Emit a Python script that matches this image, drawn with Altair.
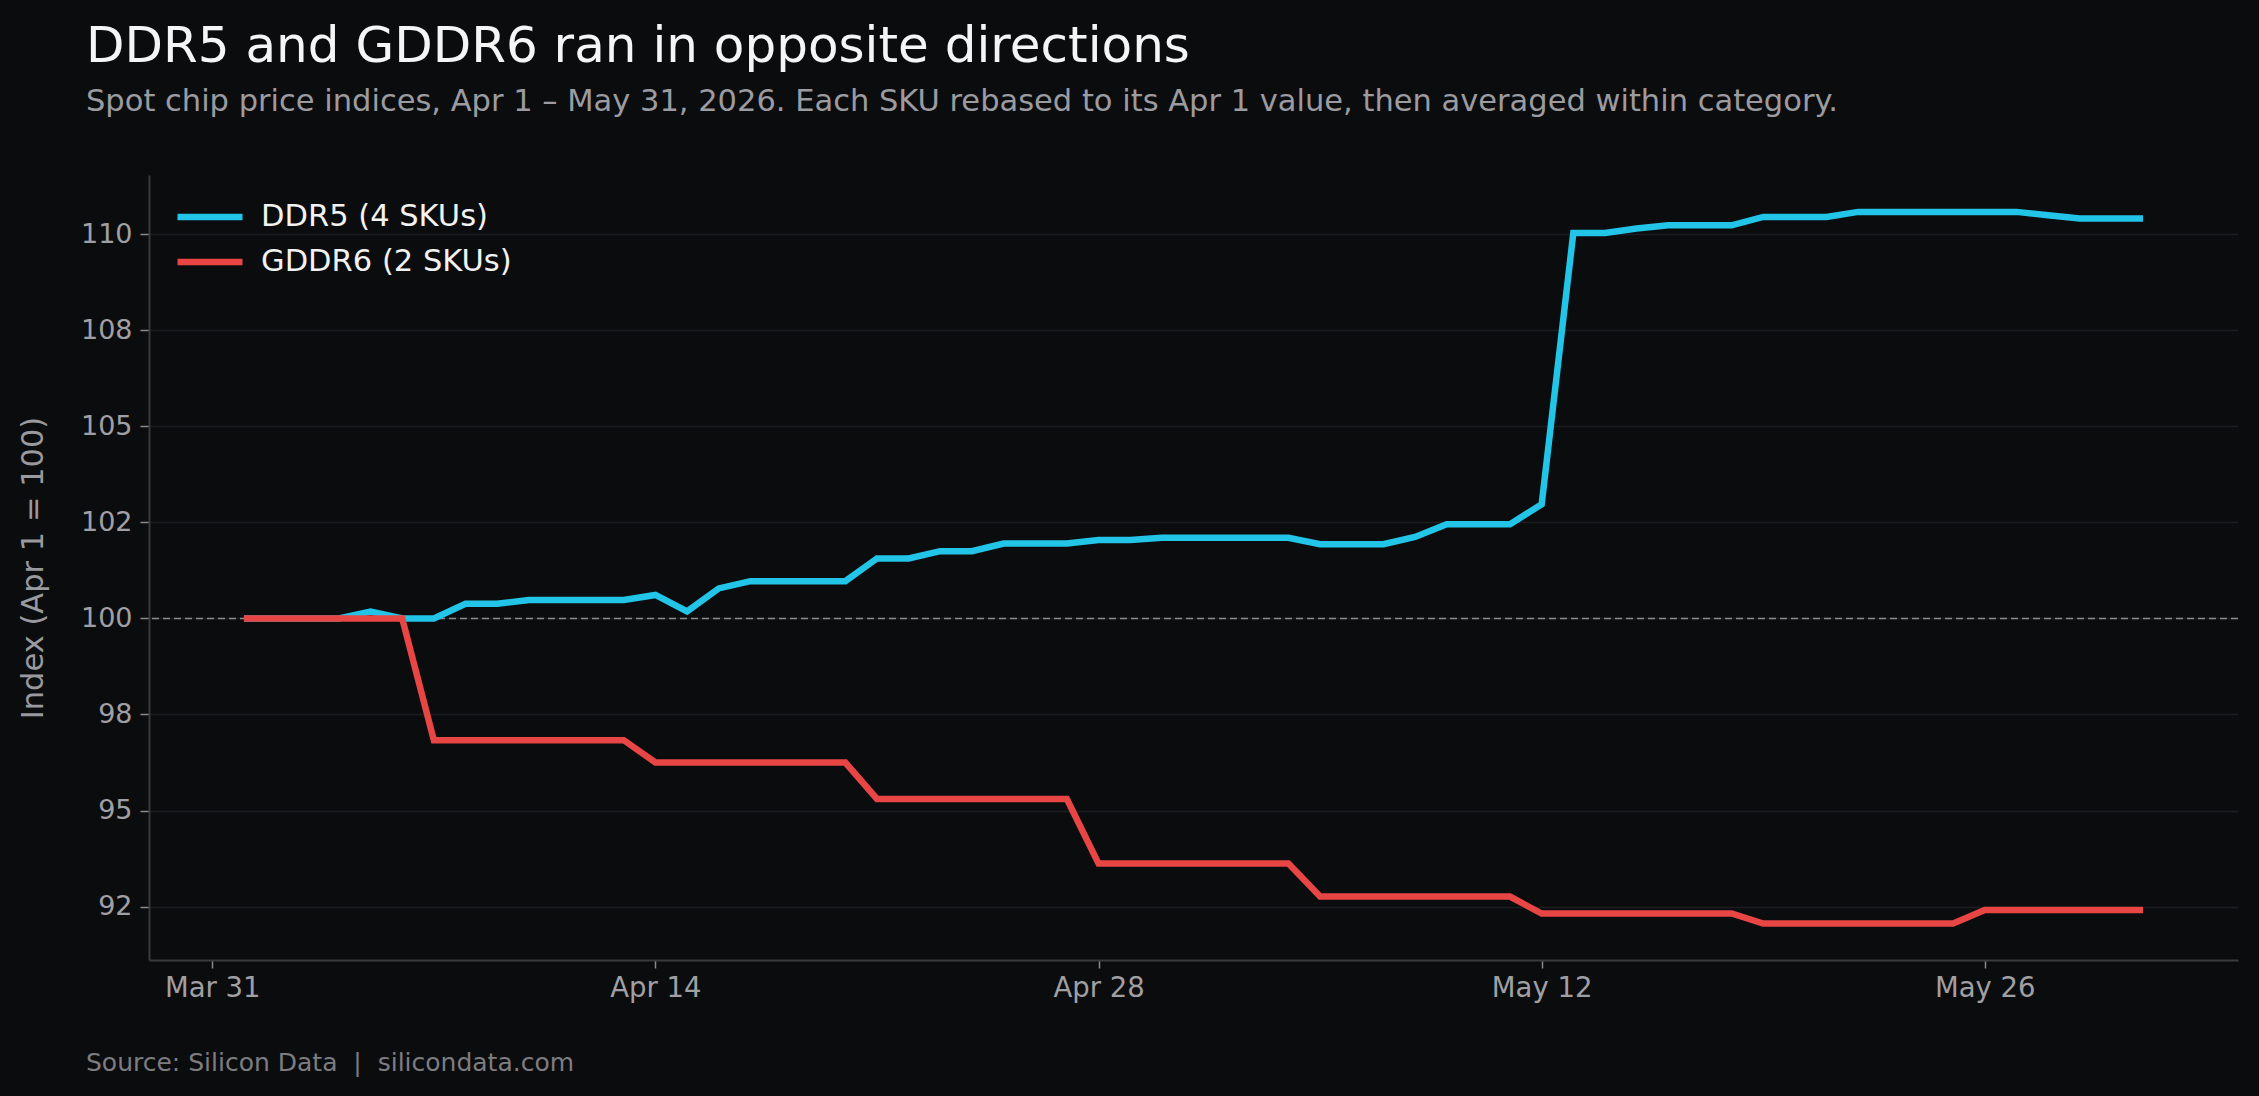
import altair as alt
import pandas as pd

# ---- data ----
start_date = "2026-04-01"
n_days = 61  # Apr 1 .. May 31

ddr5 = [100.0, 100.0, 100.0, 100.0, 100.18, 100.0, 100.0, 100.38, 100.38, 100.48,
        100.48, 100.48, 100.48, 100.61, 100.18, 100.78, 100.97, 100.97, 100.97, 100.97,
        101.56, 101.56, 101.75, 101.75, 101.95, 101.95, 101.95, 102.04, 102.04, 102.10,
        102.10, 102.10, 102.10, 102.10, 101.93, 101.93, 101.93, 102.12, 102.45, 102.45,
        102.45, 102.97, 110.03, 110.03, 110.15, 110.23, 110.23, 110.23, 110.45, 110.45,
        110.45, 110.58, 110.58, 110.58, 110.58, 110.58, 110.58, 110.49, 110.41, 110.41,
        110.41]
gddr6 = [100.0, 100.0, 100.0, 100.0, 100.0, 100.0, 96.83, 96.83, 96.83, 96.83,
         96.83, 96.83, 96.83, 96.25, 96.25, 96.25, 96.25, 96.25, 96.25, 96.25,
         95.30, 95.30, 95.30, 95.30, 95.30, 95.30, 95.30, 93.62, 93.62, 93.62,
         93.62, 93.62, 93.62, 93.62, 92.76, 92.76, 92.76, 92.76, 92.76, 92.76,
         92.76, 92.32, 92.32, 92.32, 92.32, 92.32, 92.32, 92.32, 92.06, 92.06,
         92.06, 92.06, 92.06, 92.06, 92.06, 92.41, 92.41, 92.41, 92.41, 92.41,
         92.41]
series_names = ["DDR5 (4 SKUs)", "GDDR6 (2 SKUs)"]
series_colors = ["#22c5e8", "#e84545"]
y_ticks = [92.5, 95, 97.5, 100, 102.5, 105, 107.5, 110]
baseline = [100]
source_text = "Source: Silicon Data\u00a0\u00a0|\u00a0\u00a0silicondata.com"

dates = pd.date_range(start_date, periods=n_days, freq="D").strftime("%Y-%m-%d").tolist()
df = pd.DataFrame({
    "date": dates + dates,
    "value": ddr5 + gddr6,
    "series": [series_names[0]] * n_days + [series_names[1]] * n_days,
})

FONT = "DejaVu Sans"
BG = "#0b0c0e"
W, H = 2089, 785
PAD = {"left": 149, "top": 175, "right": 21, "bottom": 136}

x_enc = alt.X(
    "date:T",
    scale=alt.Scale(type="utc",
                    domain=[alt.DateTime(year=2026, month=3, date=29, utc=True),
                            alt.DateTime(year=2026, month=6, date=3, utc=True)]),
    axis=alt.Axis(
        values=[alt.DateTime(year=2026, month=3, date=31, utc=True),
                alt.DateTime(year=2026, month=4, date=14, utc=True),
                alt.DateTime(year=2026, month=4, date=28, utc=True),
                alt.DateTime(year=2026, month=5, date=12, utc=True),
                alt.DateTime(year=2026, month=5, date=26, utc=True)],
        format="%b %d", grid=False, title=None,
        tickSize=8, labelPadding=6, labelFontSize=27.5,
    ),
)

y_scale = alt.Scale(domain=[91.11, 111.54], nice=False, zero=False)

lines = alt.Chart(df).mark_line(strokeWidth=6.5, strokeJoin="miter").encode(
    x=x_enc,
    y=alt.Y("value:Q", scale=y_scale,
            axis=alt.Axis(values=y_ticks, title="Index (Apr 1 = 100)",
                          labelExpr="datum.value == 92.5 ? '92' : datum.value == 97.5 ? '98' : datum.value == 102.5 ? '102' : datum.value == 107.5 ? '108' : format(datum.value, '.0f')",
                          tickSize=9, labelPadding=8, titlePadding=32, titleFontSize=30.5,
                          grid=True, gridColor="#1c1d20", gridWidth=1.5)),
    color=alt.Color("series:N",
                    scale=alt.Scale(domain=series_names, range=series_colors),
                    legend=alt.Legend(title=None, orient="none", legendX=25, legendY=24,
                                      symbolType="stroke", symbolSize=4225,
                                      symbolStrokeWidth=6.5, clipHeight=36, rowPadding=9,
                                      labelFontSize=30.5, labelColor="#f2f2f2", labelLimit=600,
                                      labelOffset=15, labelFont=FONT, padding=0)),
    detail="series:N",
)

rule = alt.Chart(pd.DataFrame({"y": baseline})).mark_rule(
    color="#8c8c8c", strokeDash=[7, 4], strokeWidth=1.5
).encode(y=alt.Y("y:Q", scale=y_scale))

source = alt.Chart(pd.DataFrame({"t": [source_text]})).mark_text(
    align="left", baseline="alphabetic", font=FONT, fontSize=25, color="#7d7d80"
).encode(text="t:N", x=alt.value(-63), y=alt.value(H + 111))

chart = alt.layer(rule, lines, source).properties(
    width=W, height=H,
    background=BG,
    padding=PAD,
    autosize=alt.AutoSizeParams(type="none"),
    title=alt.TitleParams(
        text="DDR5 and GDDR6 ran in opposite directions",
        subtitle="Spot chip price indices, Apr 1 – May 31, 2026. Each SKU rebased to its Apr 1 value, then averaged within category.",
        anchor="start", frame="group", dx=-63, offset=58,
        font=FONT, fontSize=50, fontWeight="normal", color="#f5f5f5",
        subtitleFont=FONT, subtitleFontSize=30.5, subtitleColor="#9b9ba0",
        subtitlePadding=15,
    ),
).configure_view(stroke=None).configure_axis(
    domainColor="#3a3a3d", domainWidth=2, tickColor="#8a8a8a", tickWidth=1.5,
    labelColor="#a0a0a4", labelFont=FONT, labelFontSize=27,
    titleColor="#9a9a9e", titleFont=FONT, titleFontSize=26, titleFontWeight="normal",
)

chart.save("out.html", embed_options={"renderer": "svg", "actions": False})
